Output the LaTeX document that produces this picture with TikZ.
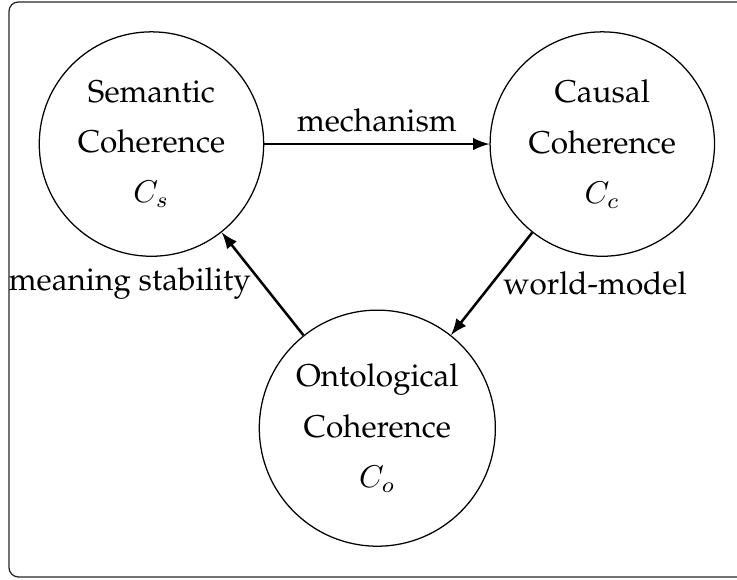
\documentclass[tikz,border=0pt]{standalone}
\usepackage[T1]{fontenc}
\renewcommand{\rmdefault}{ppl}
\usepackage{amsmath,amssymb}
\usetikzlibrary{shapes.geometric, arrows}
\tikzstyle{coh} = [circle, minimum size=2.5cm, align=center, draw=black, font=\fontsize{10}{16}\selectfont]
\tikzstyle{arrow} = [thick,->,>= latex]
\tikzstyle{lbl} = [font=\fontsize{10}{12}\selectfont]
\begin{document}
\begin{tikzpicture}[node distance=2.5cm]
\useasboundingbox (-1.69,1.607) rectangle (6.533,-4.854);
\draw [rounded corners=3pt, black!85] (-1.59,1.585) rectangle (6.9,-4.83);

\node (sem) [coh] {Semantic\\Coherence\\$C_s$};
\node (cau) [coh, right of=sem, xshift=2.53cm] {Causal\\Coherence\\$C_c$};
\node (ont) [coh, right of=sem, xshift=0.02cm, yshift=-3.17cm] {Ontological\\Coherence\\$C_o$};

\draw [arrow](sem) -- node[lbl, above]{mechanism} (cau);
\draw [arrow](cau) -- node[lbl, right]{world-model} (ont);
\draw [arrow](ont) -- node[lbl, left]{meaning stability} (sem);
\end{tikzpicture}
\end{document}
